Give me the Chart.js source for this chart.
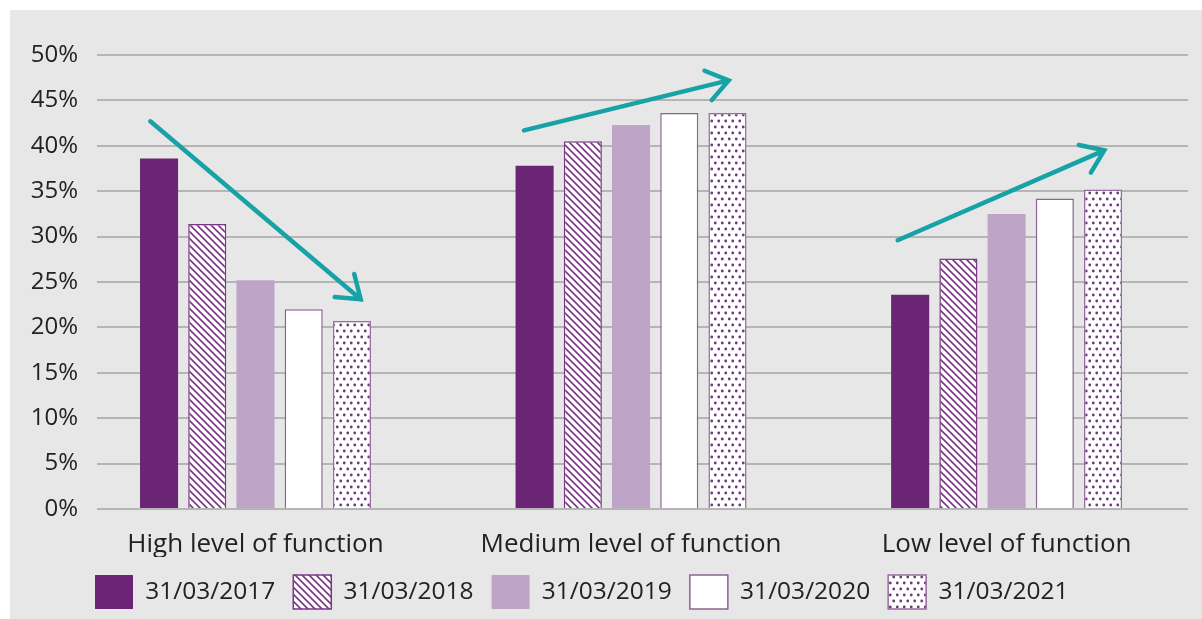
<!DOCTYPE html>
<html>
<head>
<meta charset="utf-8">
<script src="https://cdn.jsdelivr.net/npm/chart.js@4"></script>
<style>
  html, body { margin: 0; padding: 0; background: #ffffff; }
  #wrap {
    position: absolute; left: 10px; top: 10px;
    width: 1192px; height: 609px; background: #e7e7e7;
  }
</style>
</head>
<body>
<div id="wrap"><canvas id="c" width="1192" height="609"></canvas></div>
<script>
// --- data ---
const categories = ["High level of function", "Medium level of function", "Low level of function"];
const seriesLabels = ["31/03/2017", "31/03/2018", "31/03/2019", "31/03/2020", "31/03/2021"];
const values2017 = [38.6, 37.8, 23.6];
const values2018 = [31.4, 40.5, 27.6];
const values2019 = [25.2, 42.3, 32.5];
const values2020 = [22.0, 43.6, 34.2];
const values2021 = [20.7, 43.6, 35.2];
const yTicks = [0, 5, 10, 15, 20, 25, 30, 35, 40, 45, 50];

// trend arrows, in data units (x = category index, y = percent)
const arrowFromX = [-0.28, 0.715, 1.71];
const arrowFromY = [42.7, 41.7, 29.6];
const arrowToX = [0.28, 1.26, 2.26];
const arrowToY = [23.1, 47.2, 39.5];

const PURPLE = "#6b2476";
const LILAC = "#bea4c6";
const TEAL = "#17a3a6";

// fill patterns
function hatchPattern() {
  const s = 7, c = document.createElement("canvas");
  c.width = s; c.height = s;
  const g = c.getContext("2d");
  g.fillStyle = "#ffffff"; g.fillRect(0, 0, s, s);
  g.strokeStyle = "#7a3785"; g.lineWidth = 1.6;
  g.beginPath();
  g.moveTo(-1, -1); g.lineTo(s + 1, s + 1);
  g.moveTo(s - 1, -1); g.lineTo(s + 1, 1);
  g.moveTo(-1, s - 1); g.lineTo(1, s + 1);
  g.stroke();
  return g.createPattern(c, "repeat");
}
function dotPattern() {
  const c = document.createElement("canvas");
  c.width = 7; c.height = 12;
  const g = c.getContext("2d");
  g.fillStyle = "#ffffff"; g.fillRect(0, 0, 7, 12);
  g.fillStyle = "#6e3a7b";
  [[1.75, 3], [5.25, 9]].forEach(([x, y]) => {
    g.beginPath(); g.arc(x, y, 1.4, 0, Math.PI * 2); g.fill();
  });
  return g.createPattern(c, "repeat");
}

const ctx = document.getElementById("c").getContext("2d");
const pts = (arr) => arr.map((v, i) => ({ x: i, y: v }));

const FAMILY = "'Open Sans', sans-serif";

const arrowsPlugin = {
  id: "trendArrows",
  afterDatasetsDraw(chart) {
    const { ctx, scales: { x, y } } = chart;
    ctx.save();
    ctx.strokeStyle = TEAL; ctx.lineWidth = 4.5; ctx.lineCap = "round";
    for (let i = 0; i < arrowFromX.length; i++) {
      const x1 = x.getPixelForValue(arrowFromX[i]), y1 = y.getPixelForValue(arrowFromY[i]);
      const x2 = x.getPixelForValue(arrowToX[i]), y2 = y.getPixelForValue(arrowToY[i]);
      const a = Math.atan2(y2 - y1, x2 - x1), L = 26, sp = 0.62;
      ctx.beginPath();
      ctx.moveTo(x1, y1); ctx.lineTo(x2, y2);
      ctx.moveTo(x2 - L * Math.cos(a - sp), y2 - L * Math.sin(a - sp));
      ctx.lineTo(x2, y2);
      ctx.lineTo(x2 - L * Math.cos(a + sp), y2 - L * Math.sin(a + sp));
      ctx.stroke();
    }
    ctx.restore();
  }
};

// legend row starts under the y labels, not at the canvas edge
const legendOffset = {
  id: "legendOffset",
  afterLayout(chart) {
    chart.legend.left += 67;
    chart.legend.right += 67;
  }
};

new Chart(ctx, {
  type: "bar",
  data: {
    datasets: [
      { label: seriesLabels[0], data: pts(values2017), backgroundColor: PURPLE, borderColor: PURPLE, borderWidth: 0 },
      { label: seriesLabels[1], data: pts(values2018), backgroundColor: hatchPattern(), borderColor: "#7a3785", borderWidth: 1.5 },
      { label: seriesLabels[2], data: pts(values2019), backgroundColor: LILAC, borderColor: LILAC, borderWidth: 0 },
      { label: seriesLabels[3], data: pts(values2020), backgroundColor: "#ffffff", borderColor: "#8b6494", borderWidth: 1.5 },
      { label: seriesLabels[4], data: pts(values2021), backgroundColor: dotPattern(), borderColor: "#9a6aa3", borderWidth: 1.5 }
    ]
  },
  options: {
    responsive: false,
    animation: false,
    categoryPercentage: 0.642,
    barPercentage: 0.79,
    layout: { padding: { left: 0, right: 14, top: 45, bottom: 0 } },
    plugins: {
      tooltip: { enabled: false },
      legend: {
        position: "bottom",
        align: "start",
        labels: { font: { family: FAMILY, size: 24.5 }, color: "#222222", boxWidth: 38, boxHeight: 34, padding: 18 }
      }
    },
    scales: {
      x: {
        type: "linear",
        offset: false,
        min: -0.422,
        max: 2.483,
        grid: { display: false },
        border: { display: false },
        afterBuildTicks: (s) => { s.ticks = categories.map((_, i) => ({ value: i })); },
        afterFit: (s) => { s.height = 48; },
        ticks: {
          autoSkip: false, maxRotation: 0, padding: 12,
          font: { family: FAMILY, size: 26 }, color: "#222222",
          callback: (v) => categories[v]
        }
      },
      y: {
        min: 0,
        max: 50,
        afterBuildTicks: (s) => { s.ticks = yTicks.map((v) => ({ value: v })); },
        afterFit: (s) => { s.width = 87; },
        border: { display: false },
        grid: { color: "#b5b5b5", lineWidth: 2, drawTicks: false },
        ticks: { font: { family: FAMILY, size: 24 }, color: "#222222", padding: 19, callback: (v) => v + "%" }
      }
    }
  },
  plugins: [arrowsPlugin, legendOffset]
});
</script>
</body>
</html>
